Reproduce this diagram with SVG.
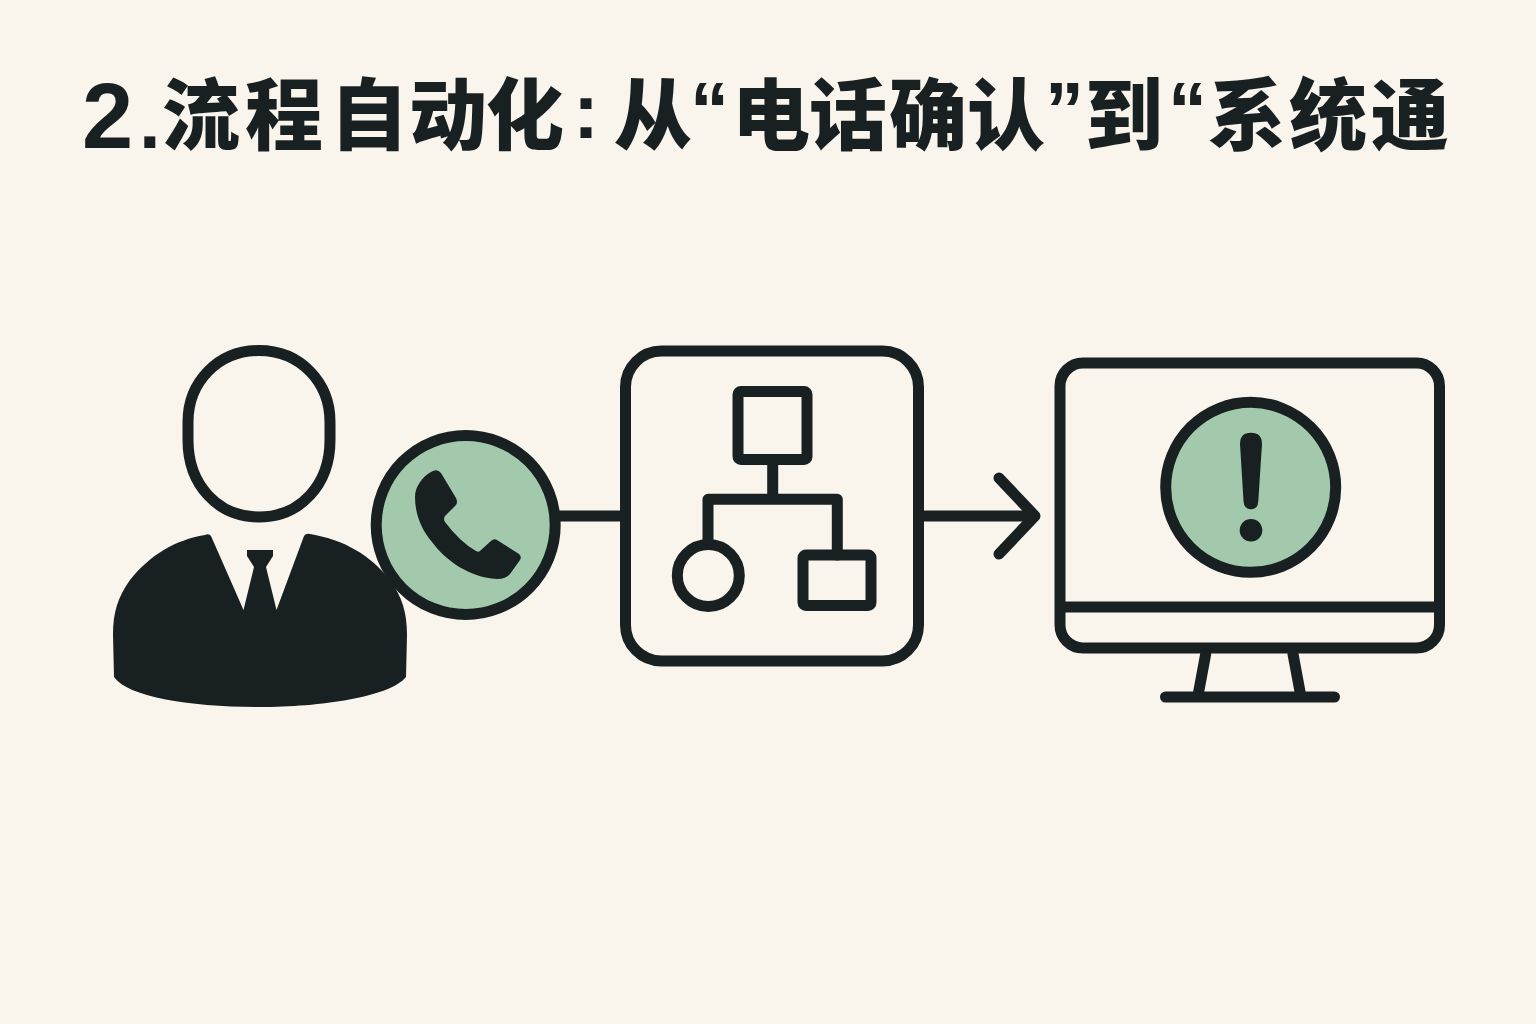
<svg xmlns="http://www.w3.org/2000/svg" width="1536" height="1024" viewBox="0 0 1536 1024">
<style>
.ln{fill:none;stroke:#182022;stroke-width:11;stroke-linecap:round;stroke-linejoin:round}
.sq{stroke-linecap:butt}
.ink{fill:#182022}
.gr{fill:#a3c9ac;stroke:#182022;stroke-width:11}
.t{font-family:"Noto Sans CJK SC","Liberation Sans",sans-serif;font-weight:900;font-size:78px;fill:#182022}
.l{font-family:"Liberation Sans","Noto Sans CJK SC",sans-serif;font-weight:700}
</style>
<rect width="1536" height="1024" fill="#f9f5ed"/>
<text class="t" y="144"><tspan class="l" x="82" y="148" font-size="92">2</tspan><tspan class="l" x="139" y="148">.</tspan><tspan x="162 245 330 409 486" y="144">流程自动化</tspan><tspan class="l" x="573" y="138">:</tspan><tspan x="614" y="144">从</tspan><tspan class="l" x="690" y="137">“</tspan><tspan x="732 809 889 967" y="144">电话确认</tspan><tspan class="l" x="1045" y="137">”</tspan><tspan x="1085" y="144">到</tspan><tspan class="l" x="1168" y="137">“</tspan><tspan x="1208 1289 1371" y="144">系统通</tspan></text>
<g id="connectors">
<path class="ln sq" d="M555 516H626"/>
<path class="ln sq" d="M922 516H1034"/>
<path class="ln" d="M999 478L1035 516L999 554"/>
</g>
<g id="person">
<path class="ink" d="M205 535Q209 533 211 536L243.500 610L254 567L247 556V550H273V556L266 567L276.500 610L304 536Q306 533 310 534C345 540 370 555 390 580C402 597 407 612 407 635L406 677C390 697 320 707 260 707C190 707 128 697 114 677L113 635C113 612 118 597 130 580C150 555 175 540 205 535Z"/>
<path class="ln" d="M259 350.500C300 350.500 330 382 330 422V440C330 485 300 517 259 517C218 517 188 485 188 440V422C188 382 218 350.500 259 350.500Z"/>
</g>
<g id="phone">
<circle class="gr" cx="465.700" cy="525" r="89.500"/>
<path class="ink" d="M431 472Q437 468 441 473L456 498Q458 502 456 505L445 516Q443 519 445 522Q460 542 476 551Q479 553 481 550L491 541Q494 538 497 540L519 554Q522 557 520 560L510 574Q506 579 497 579C470 578 445 560 432 542C420 528 415 512 415 497C415 487 422 477 431 472Z"/>
</g>
<g id="process">
<rect class="ln" x="625.500" y="351" width="293" height="310" rx="36"/>
<rect class="ln" x="738" y="391.500" width="69" height="68" rx="3"/>
<path class="ln" d="M772.700 460V499.300M708 544V499.300H837.300V555"/>
<circle class="ln" cx="708.300" cy="575.500" r="31"/>
<rect class="ln" x="803" y="555" width="68" height="50.500" rx="3"/>
</g>
<g id="monitor">
<rect class="ln" x="1060" y="363" width="379.500" height="285" rx="23"/>
<path class="ln sq" d="M1060 607H1439.500"/>
<path class="ln" d="M1205.700 654L1197.700 697M1293 654L1301 697M1165.500 697H1334.500"/>
<circle class="gr" cx="1250.700" cy="487.300" r="85"/>
<path class="ink" d="M1240 444Q1240 432.700 1251 432.700Q1262 432.700 1262 444L1258.300 501Q1258 509.300 1251 509.300Q1244 509.300 1243.500 501Z"/>
<circle class="ink" cx="1251" cy="530.300" r="11.300"/>
</g>
</svg>
